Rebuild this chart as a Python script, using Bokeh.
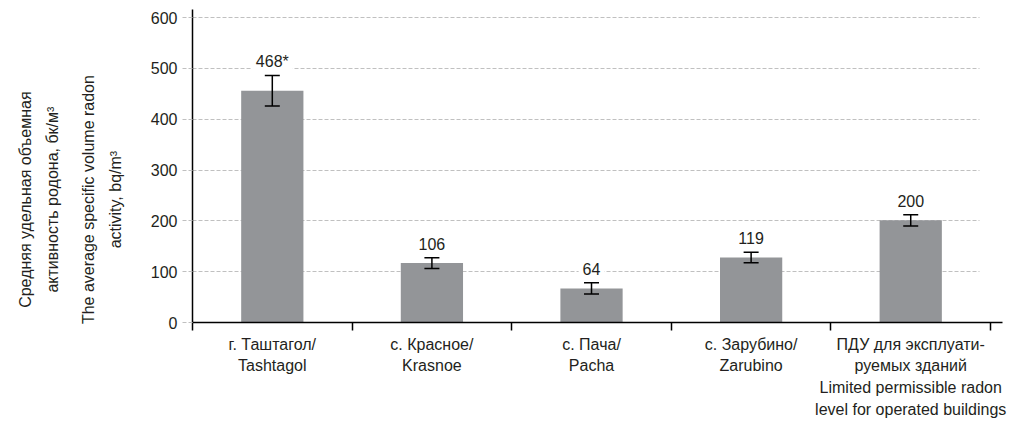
from bokeh.plotting import figure
from bokeh.models import (Range1d, LinearAxis, FixedTicker, ColumnDataSource,
                          Whisker, TeeHead, Grid)
from bokeh.core.properties import value
from bokeh.embed import file_html
from bokeh.resources import INLINE

# ---- data ----
categories = [
    "г. Таштагол/\nTashtagol",
    "с. Красное/\nKrasnoe",
    "с. Пача/\nPacha",
    "с. Зарубино/\nZarubino",
    "ПДУ для эксплуати-\nруемых зданий\nLimited permissible radon\nlevel for operated buildings",
]
means = [456, 117, 67, 128, 201]
errors = [30, 10.5, 11, 10.5, 11]
value_labels = ["468*", "106", "64", "119", "200"]
y_ticks = [0, 100, 200, 300, 400, 500, 600]
y_title_ru = ["Средняя удельная объемная", "активность родона, бк/м³"]
y_title_en = ["The average specific volume radon", "activity, bq/m³"]

FONT = "Liberation Sans"
TEXT_COLOR = "#231f20"
BAR_COLOR = "#939598"
GRID_COLOR = "#c0c0c0"
# trailing em-spaces shift the centred rotated titles a little downwards
PAD = "\u2003\u2003\u2003\u2003\u2009"

xs = [i + 0.5 for i in range(len(categories))]
bounds = list(range(len(categories) + 1))
src = ColumnDataSource(dict(
    x=xs, top=means,
    upper=[m + e for m, e in zip(means, errors)],
    lower=[m - e for m, e in zip(means, errors)],
    label=value_labels,
))

p = figure(width=1024, height=421,
           x_range=Range1d(0, 5.075), y_range=Range1d(0, 616),
           x_axis_type=None, y_axis_type=None,
           output_backend="svg", toolbar_location=None,
           min_border_left=192, min_border_right=22,
           min_border_top=9, min_border_bottom=99)
p.outline_line_color = None
p.background_fill_color = "white"
p.border_fill_color = "white"

grid = Grid(dimension=1, ticker=FixedTicker(ticks=y_ticks),
            grid_line_color=GRID_COLOR, grid_line_dash="4 2", grid_line_width=1,
            cross_bounds=(0, 4.93))
p.add_layout(grid)

yaxis = LinearAxis(ticker=FixedTicker(ticks=y_ticks),
                   major_tick_out=10, major_tick_in=0, minor_tick_out=0, minor_tick_in=0,
                   major_tick_line_color=GRID_COLOR, major_tick_line_dash="4 2",
                   major_tick_line_width=1,
                   axis_line_color="black", axis_line_width=1.5,
                   major_label_standoff=5,
                   major_label_text_font=FONT, major_label_text_font_size="16px",
                   major_label_text_color=TEXT_COLOR)
p.add_layout(yaxis, "left")


def title_axis(lines, standoff):
    text = "\n".join(line + PAD for line in lines)
    return LinearAxis(ticker=FixedTicker(ticks=[]),
                      axis_line_color=None, major_tick_out=0, major_tick_in=0,
                      minor_tick_out=0, minor_tick_in=0, major_label_standoff=0,
                      axis_label=text, axis_label_standoff=standoff,
                      axis_label_text_font=FONT, axis_label_text_font_size="16px",
                      axis_label_text_font_style="normal",
                      axis_label_text_color=TEXT_COLOR,
                      axis_label_text_line_height=1.55)


p.add_layout(title_axis(y_title_en, 24), "left")
p.add_layout(title_axis(y_title_ru, 17), "left")

xaxis = LinearAxis(ticker=FixedTicker(ticks=xs, minor_ticks=bounds),
                   major_label_overrides={x: c for x, c in zip(xs, categories)},
                   major_tick_out=0, major_tick_in=0,
                   minor_tick_out=8, minor_tick_in=0,
                   minor_tick_line_color="black", minor_tick_line_width=1.5,
                   axis_line_color="black", axis_line_width=1.5,
                   major_label_standoff=5,
                   major_label_text_font=FONT, major_label_text_font_size="16px",
                   major_label_text_color=TEXT_COLOR,
                   major_label_text_line_height=1.28)
p.add_layout(xaxis, "below")

p.vbar(x="x", top="top", width=0.39, source=src,
       fill_color=BAR_COLOR, line_color=None)

wh = Whisker(base="x", upper="upper", lower="lower", source=src,
             line_color="black", line_width=1.5, level="annotation",
             upper_head=TeeHead(size=15, line_color="black", line_width=1.5),
             lower_head=TeeHead(size=15, line_color="black", line_width=1.5))
p.add_layout(wh)

p.text(x="x", y="upper", text="label", source=src,
       text_align="center", text_baseline="alphabetic", y_offset=-14,
       text_font=value(FONT), text_font_size="16px", text_color=TEXT_COLOR,
       background_fill_color="white", padding=4)

open("out.html", "w").write(file_html(p, INLINE))
